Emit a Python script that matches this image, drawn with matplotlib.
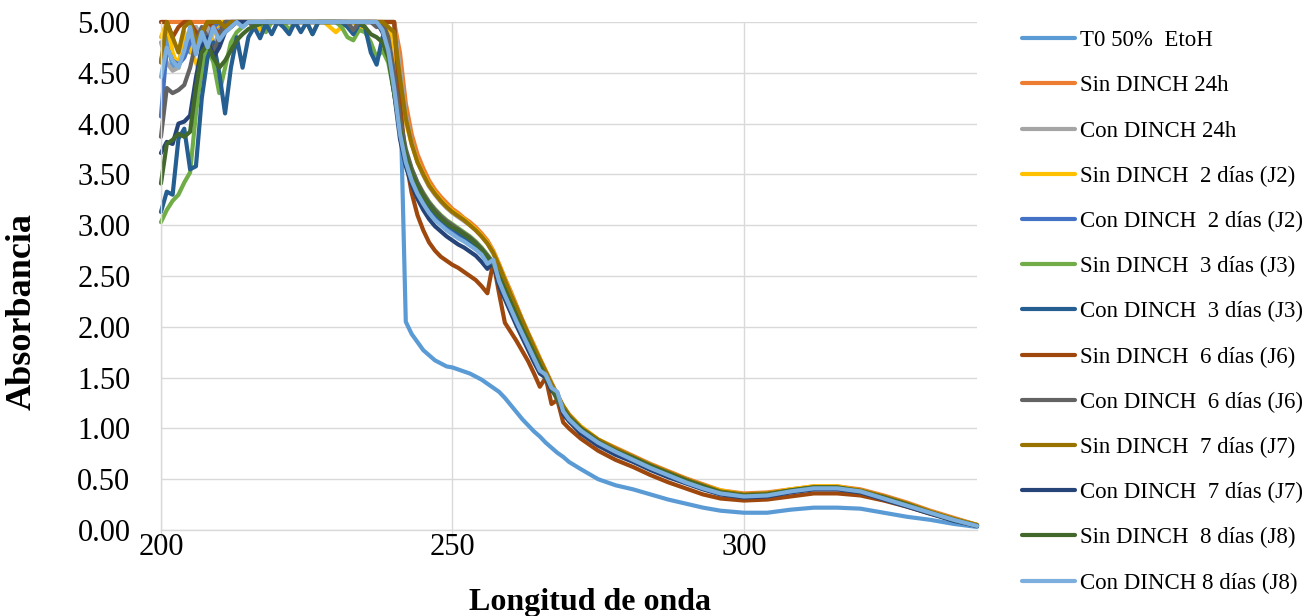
# UV absorbance spectra of the extracts, with and without DINCH, over several days
import matplotlib.pyplot as plt

plt.rcParams['font.family'] = ['Liberation Serif', 'DejaVu Serif']

# wavelength grid (nm): 1 nm steps up to 270, coarser in the smooth tail
wavelength = [200, 201, 202, 203, 204, 205, 206, 207, 208, 209,
              210, 211, 212, 213, 214, 215, 216, 217, 218, 219,
              220, 221, 222, 223, 224, 225, 226, 227, 228, 229,
              230, 231, 232, 233, 234, 235, 236, 237, 238, 239,
              240, 241, 242, 243, 244, 245, 246, 247, 248, 249,
              250, 251, 252, 253, 254, 255, 256, 257, 258, 259,
              260, 261, 262, 263, 264, 265, 266, 267, 268, 269,
              270, 272, 275, 278, 281, 284, 287, 290, 293, 296, 300,
              304, 308, 312, 316, 320, 324, 328, 332, 336, 340]

t0_etoh = [4.62, 4.85, 4.55, 4.60, 4.80, 4.70, 4.95, 4.80, 4.90, 5.00,
           4.92, 5.00, 5.00, 5.00, 4.95, 5.00, 5.00, 5.00, 5.00, 5.00,
           5.00, 5.00, 5.00, 5.00, 5.00, 5.00, 5.00, 5.00, 5.00, 5.00,
           5.00, 5.00, 5.00, 5.00, 5.00, 5.00, 5.00, 5.00, 5.00, 5.00,
           5.00, 4.40, 2.05, 1.93, 1.85, 1.77, 1.72, 1.67, 1.64, 1.61,
           1.60, 1.58, 1.56, 1.54, 1.51, 1.48, 1.44, 1.40, 1.36, 1.30,
           1.23, 1.16, 1.09, 1.03, 0.97, 0.92, 0.86, 0.81, 0.76, 0.72,
           0.67, 0.60, 0.50, 0.44, 0.40, 0.35, 0.30, 0.26, 0.22, 0.19, 0.17,
           0.17, 0.20, 0.22, 0.22, 0.21, 0.17, 0.13, 0.10, 0.06, 0.03]

sin_24h = [5.00, 5.00, 5.00, 5.00, 5.00, 5.00, 5.00, 5.00, 5.00, 5.00,
           5.00, 5.00, 5.00, 5.00, 5.00, 5.00, 5.00, 5.00, 5.00, 5.00,
           5.00, 5.00, 5.00, 5.00, 5.00, 5.00, 5.00, 5.00, 5.00, 5.00,
           5.00, 5.00, 5.00, 5.00, 5.00, 5.00, 5.00, 5.00, 5.00, 5.00,
           5.00, 4.70, 4.20, 3.90, 3.70, 3.56, 3.44, 3.35, 3.28, 3.22,
           3.16, 3.12, 3.07, 3.03, 2.98, 2.92, 2.85, 2.75, 2.62, 2.48,
           2.35, 2.21, 2.07, 1.94, 1.82, 1.69, 1.57, 1.45, 1.33, 1.22,
           1.14, 1.02, 0.89, 0.81, 0.73, 0.65, 0.58, 0.51, 0.45, 0.39, 0.36,
           0.37, 0.40, 0.43, 0.43, 0.40, 0.34, 0.27, 0.19, 0.12, 0.05]

con_24h = [4.80, 4.60, 4.52, 4.55, 4.75, 4.90, 4.95, 4.85, 4.95, 4.78,
           4.88, 5.00, 5.00, 5.00, 5.00, 5.00, 5.00, 5.00, 5.00, 5.00,
           5.00, 5.00, 5.00, 5.00, 5.00, 5.00, 5.00, 5.00, 5.00, 5.00,
           5.00, 5.00, 5.00, 5.00, 5.00, 5.00, 5.00, 5.00, 5.00, 5.00,
           5.00, 4.55, 4.10, 3.82, 3.63, 3.49, 3.38, 3.30, 3.23, 3.17,
           3.12, 3.08, 3.04, 3.00, 2.95, 2.89, 2.82, 2.72, 2.59, 2.46,
           2.32, 2.18, 2.05, 1.92, 1.80, 1.67, 1.55, 1.43, 1.32, 1.21,
           1.13, 1.01, 0.88, 0.79, 0.72, 0.64, 0.56, 0.50, 0.44, 0.38, 0.35,
           0.36, 0.39, 0.42, 0.42, 0.39, 0.33, 0.26, 0.18, 0.11, 0.05]

sin_j2 = [4.85, 5.00, 4.70, 4.55, 4.90, 4.75, 4.60, 4.45, 4.70, 4.90,
          5.00, 5.00, 4.95, 5.00, 5.00, 5.00, 5.00, 4.92, 5.00, 5.00,
          5.00, 5.00, 5.00, 5.00, 5.00, 5.00, 5.00, 5.00, 5.00, 4.95,
          4.90, 4.95, 5.00, 5.00, 4.92, 5.00, 5.00, 5.00, 5.00, 4.95,
          4.75, 4.35, 4.02, 3.80, 3.63, 3.51, 3.40, 3.32, 3.25, 3.19,
          3.14, 3.10, 3.06, 3.01, 2.96, 2.90, 2.83, 2.74, 2.61, 2.47,
          2.33, 2.19, 2.06, 1.93, 1.81, 1.68, 1.56, 1.44, 1.32, 1.22,
          1.13, 1.02, 0.89, 0.80, 0.72, 0.64, 0.57, 0.50, 0.44, 0.39, 0.35,
          0.36, 0.40, 0.43, 0.43, 0.39, 0.33, 0.26, 0.18, 0.11, 0.05]

con_j2 = [4.07, 4.75, 4.62, 4.58, 4.65, 4.80, 4.90, 4.70, 4.82, 4.95,
          5.00, 4.92, 5.00, 5.00, 5.00, 5.00, 5.00, 5.00, 5.00, 5.00,
          5.00, 5.00, 5.00, 5.00, 5.00, 5.00, 5.00, 5.00, 5.00, 5.00,
          5.00, 5.00, 5.00, 5.00, 5.00, 5.00, 5.00, 5.00, 4.92, 4.75,
          4.40, 3.95, 3.66, 3.47, 3.34, 3.24, 3.15, 3.08, 3.02, 2.97,
          2.93, 2.89, 2.85, 2.81, 2.77, 2.72, 2.63, 2.65, 2.45, 2.31,
          2.18, 2.05, 1.93, 1.81, 1.69, 1.57, 1.53, 1.40, 1.35, 1.17,
          1.09, 0.97, 0.85, 0.76, 0.68, 0.61, 0.54, 0.47, 0.41, 0.36, 0.33,
          0.34, 0.38, 0.41, 0.41, 0.38, 0.31, 0.24, 0.17, 0.10, 0.04]

sin_j3 = [3.03, 3.15, 3.24, 3.30, 3.42, 3.52, 4.10, 4.55, 4.75, 4.60,
          4.30, 4.55, 4.80, 4.90, 4.95, 5.00, 5.00, 5.00, 4.90, 5.00,
          5.00, 5.00, 4.92, 5.00, 5.00, 5.00, 4.88, 5.00, 5.00, 5.00,
          5.00, 4.95, 4.85, 4.82, 4.92, 4.90, 4.80, 4.65, 4.72, 4.60,
          4.30, 3.95, 3.72, 3.55, 3.42, 3.32, 3.23, 3.16, 3.10, 3.05,
          3.01, 2.97, 2.93, 2.89, 2.84, 2.78, 2.71, 2.63, 2.51, 2.38,
          2.25, 2.12, 1.99, 1.87, 1.75, 1.63, 1.51, 1.40, 1.29, 1.19,
          1.11, 0.99, 0.87, 0.78, 0.70, 0.62, 0.55, 0.48, 0.42, 0.37, 0.34,
          0.35, 0.38, 0.41, 0.41, 0.38, 0.32, 0.25, 0.17, 0.10, 0.04]

con_j3 = [3.13, 3.33, 3.30, 3.85, 3.95, 3.55, 3.58, 4.25, 4.65, 4.80,
          4.50, 4.10, 4.55, 4.85, 4.55, 4.85, 4.95, 4.84, 4.98, 4.88,
          5.00, 4.95, 4.88, 5.00, 4.90, 5.00, 4.88, 5.00, 5.00, 5.00,
          5.00, 5.00, 4.95, 4.88, 4.98, 4.95, 4.70, 4.58, 4.85, 4.70,
          4.35, 3.95, 3.68, 3.50, 3.37, 3.27, 3.19, 3.12, 3.06, 3.01,
          2.97, 2.93, 2.89, 2.85, 2.80, 2.74, 2.66, 2.64, 2.47, 2.34,
          2.21, 2.08, 1.96, 1.84, 1.72, 1.60, 1.52, 1.40, 1.32, 1.17,
          1.10, 0.98, 0.86, 0.77, 0.69, 0.61, 0.54, 0.47, 0.41, 0.36, 0.33,
          0.34, 0.38, 0.41, 0.41, 0.38, 0.31, 0.24, 0.17, 0.10, 0.04]

sin_j6 = [5.00, 5.00, 4.85, 4.95, 5.00, 5.00, 4.90, 4.88, 5.00, 4.95,
          4.88, 5.00, 5.00, 5.00, 5.00, 5.00, 5.00, 5.00, 5.00, 5.00,
          5.00, 5.00, 5.00, 5.00, 5.00, 5.00, 5.00, 5.00, 5.00, 5.00,
          5.00, 5.00, 5.00, 5.00, 5.00, 5.00, 5.00, 5.00, 5.00, 5.00,
          5.00, 4.20, 3.65, 3.32, 3.10, 2.95, 2.83, 2.75, 2.69, 2.65,
          2.61, 2.58, 2.54, 2.50, 2.46, 2.40, 2.33, 2.64, 2.33, 2.04,
          1.95, 1.86, 1.76, 1.66, 1.54, 1.41, 1.50, 1.24, 1.28, 1.06,
          1.00, 0.90, 0.78, 0.69, 0.62, 0.54, 0.47, 0.41, 0.35, 0.31, 0.29,
          0.30, 0.33, 0.36, 0.36, 0.34, 0.29, 0.23, 0.16, 0.10, 0.04]

con_j6 = [3.87, 4.35, 4.30, 4.33, 4.38, 4.55, 4.80, 4.95, 4.85, 4.70,
          4.85, 5.00, 5.00, 5.00, 5.00, 5.00, 4.95, 5.00, 5.00, 5.00,
          5.00, 5.00, 5.00, 5.00, 5.00, 5.00, 5.00, 5.00, 5.00, 5.00,
          5.00, 5.00, 5.00, 4.92, 5.00, 5.00, 5.00, 4.95, 5.00, 4.85,
          4.50, 4.05, 3.75, 3.56, 3.42, 3.31, 3.22, 3.15, 3.09, 3.04,
          3.00, 2.96, 2.92, 2.88, 2.83, 2.77, 2.70, 2.63, 2.50, 2.37,
          2.24, 2.11, 1.98, 1.86, 1.74, 1.62, 1.50, 1.39, 1.28, 1.18,
          1.10, 0.99, 0.86, 0.78, 0.70, 0.62, 0.55, 0.48, 0.42, 0.37, 0.34,
          0.35, 0.38, 0.41, 0.41, 0.38, 0.32, 0.25, 0.17, 0.10, 0.04]

sin_j7 = [4.60, 5.00, 4.85, 4.70, 4.95, 5.00, 4.80, 4.90, 5.00, 5.00,
          5.00, 4.95, 5.00, 5.00, 5.00, 5.00, 5.00, 5.00, 5.00, 5.00,
          5.00, 5.00, 5.00, 5.00, 5.00, 5.00, 5.00, 5.00, 5.00, 5.00,
          5.00, 5.00, 5.00, 5.00, 5.00, 5.00, 5.00, 5.00, 5.00, 4.95,
          4.90, 4.45, 4.05, 3.80, 3.62, 3.50, 3.39, 3.31, 3.24, 3.18,
          3.13, 3.09, 3.05, 3.00, 2.95, 2.89, 2.82, 2.73, 2.60, 2.46,
          2.32, 2.19, 2.06, 1.93, 1.80, 1.68, 1.56, 1.44, 1.33, 1.22,
          1.13, 1.01, 0.89, 0.80, 0.72, 0.64, 0.57, 0.50, 0.44, 0.38, 0.35,
          0.36, 0.39, 0.42, 0.42, 0.39, 0.33, 0.26, 0.18, 0.11, 0.05]

con_j7 = [3.71, 3.82, 3.80, 4.00, 4.02, 4.08, 4.45, 4.75, 4.85, 4.65,
          4.75, 4.90, 4.95, 5.00, 5.00, 5.00, 5.00, 5.00, 5.00, 5.00,
          5.00, 5.00, 5.00, 5.00, 5.00, 5.00, 5.00, 5.00, 5.00, 5.00,
          5.00, 5.00, 5.00, 5.00, 5.00, 5.00, 5.00, 5.00, 4.90, 4.70,
          4.30, 3.85, 3.58, 3.40, 3.26, 3.15, 3.06, 2.99, 2.94, 2.89,
          2.85, 2.81, 2.78, 2.74, 2.70, 2.64, 2.57, 2.64, 2.40, 2.27,
          2.14, 2.01, 1.89, 1.77, 1.65, 1.54, 1.50, 1.37, 1.33, 1.14,
          1.07, 0.95, 0.83, 0.74, 0.67, 0.59, 0.52, 0.46, 0.40, 0.35, 0.32,
          0.33, 0.37, 0.40, 0.40, 0.37, 0.30, 0.23, 0.16, 0.09, 0.04]

sin_j8 = [3.41, 3.80, 3.84, 3.90, 3.87, 3.92, 4.35, 4.70, 4.78, 4.65,
          4.55, 4.62, 4.72, 4.82, 4.88, 4.93, 4.96, 4.98, 5.00, 5.00,
          5.00, 5.00, 5.00, 5.00, 5.00, 5.00, 5.00, 5.00, 5.00, 5.00,
          5.00, 5.00, 5.00, 5.00, 5.00, 4.95, 4.88, 4.85, 4.80, 4.65,
          4.30, 3.95, 3.70, 3.52, 3.39, 3.29, 3.20, 3.13, 3.07, 3.02,
          2.98, 2.95, 2.91, 2.87, 2.82, 2.76, 2.69, 2.62, 2.50, 2.37,
          2.24, 2.11, 1.98, 1.86, 1.74, 1.62, 1.51, 1.40, 1.29, 1.19,
          1.11, 1.00, 0.87, 0.78, 0.71, 0.63, 0.56, 0.49, 0.43, 0.37, 0.34,
          0.35, 0.39, 0.42, 0.42, 0.38, 0.32, 0.25, 0.17, 0.10, 0.04]

con_j8 = [4.46, 4.75, 4.62, 4.55, 4.72, 4.95, 4.68, 4.90, 4.75, 4.95,
          4.82, 4.90, 4.95, 5.00, 4.95, 5.00, 5.00, 5.00, 5.00, 5.00,
          5.00, 5.00, 5.00, 5.00, 5.00, 5.00, 5.00, 5.00, 5.00, 5.00,
          5.00, 5.00, 5.00, 5.00, 5.00, 5.00, 5.00, 5.00, 4.92, 4.72,
          4.35, 3.90, 3.62, 3.44, 3.31, 3.21, 3.12, 3.05, 3.00, 2.95,
          2.91, 2.87, 2.84, 2.80, 2.76, 2.71, 2.62, 2.66, 2.45, 2.31,
          2.18, 2.05, 1.93, 1.81, 1.69, 1.57, 1.53, 1.40, 1.36, 1.17,
          1.09, 0.98, 0.86, 0.77, 0.69, 0.61, 0.54, 0.47, 0.41, 0.36, 0.33,
          0.34, 0.38, 0.41, 0.41, 0.38, 0.31, 0.24, 0.17, 0.10, 0.04]

labels = ['T0 50%  EtoH', 'Sin DINCH 24h', 'Con DINCH 24h',
          'Sin DINCH  2 días (J2)', 'Con DINCH  2 días (J2)',
          'Sin DINCH  3 días (J3)', 'Con DINCH  3 días (J3)',
          'Sin DINCH  6 días (J6)', 'Con DINCH  6 días (J6)',
          'Sin DINCH  7 días (J7)', 'Con DINCH  7 días (J7)',
          'Sin DINCH  8 días (J8)', 'Con DINCH 8 días (J8)']
series = [t0_etoh, sin_24h, con_24h, sin_j2, con_j2, sin_j3, con_j3,
          sin_j6, con_j6, sin_j7, con_j7, sin_j8, con_j8]
colors = ['#5B9BD5', '#ED7D31', '#A5A5A5', '#FFC000', '#4472C4', '#70AD47', '#255E91',
          '#9E480E', '#636363', '#997300', '#264478', '#43682B', '#7CAFDD']

fig = plt.figure(figsize=(13.15, 6.16), dpi=100)
ax = fig.add_axes([0.1224, 0.1396, 0.6206, 0.8247])

for vals, lab, col in zip(series, labels, colors):
    ax.plot(wavelength, vals, color=col, linewidth=3.0, label=lab,
            solid_joinstyle='round', solid_capstyle='round', clip_on=False)

ax.set_xlim(200, 340)
ax.set_ylim(0, 5)
ax.set_xticks([200, 250, 300])
ax.set_yticks([0, 0.5, 1, 1.5, 2, 2.5, 3, 3.5, 4, 4.5, 5])
ax.set_yticklabels(['%.2f' % v for v in ax.get_yticks()])
ax.grid(True, color='#D9D9D9', linewidth=1.0)
ax.set_axisbelow(True)
for side in ['top', 'right']:
    ax.spines[side].set_visible(False)
for side in ['left', 'bottom']:
    ax.spines[side].set_color('#D9D9D9')
    ax.spines[side].set_linewidth(1.0)
ax.tick_params(axis='x', labelsize=22, length=6, width=1, color='#D9D9D9', pad=-3.5)
ax.tick_params(axis='y', labelsize=22, length=0, pad=22)

fig.text(0.4487, 0.0227, 'Longitud de onda', fontsize=23, fontweight='bold',
         ha='center', va='center')
fig.text(0.0167, 0.495, 'Absorbancia', fontsize=26, fontweight='bold',
         rotation=90, ha='center', va='center')

fig.legend(loc='center left', bbox_to_anchor=(0.7772, 0.4935), frameon=False,
           fontsize=16.5, handlelength=2.3, handletextpad=0.25,
           labelspacing=1.05, borderpad=0, borderaxespad=0)

fig.savefig('out.png', dpi=100)
